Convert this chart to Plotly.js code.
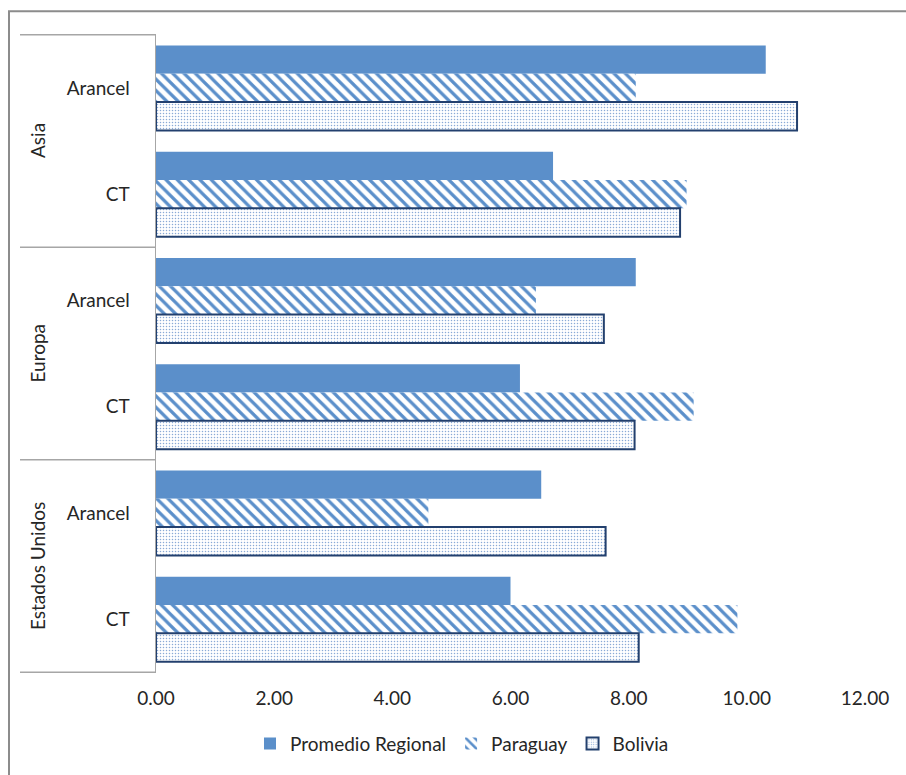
<!DOCTYPE html>
<html>
<head>
<meta charset="utf-8">
<script src="https://cdn.plot.ly/plotly-3.0.1.min.js"></script>
<style>html,body{margin:0;padding:0;background:#fff;}#chart{width:906px;height:775px;}</style>
</head>
<body>
<div id="chart"></div>
<script>
// Data
var groups = ['Asia', 'Europa', 'Estados Unidos'];
var subLabels = ['Arancel', 'CT'];
var seriesNames = ['Promedio Regional', 'Paraguay', 'Bolivia'];
var promedio = [10.32, 6.72, 8.12, 6.16, 6.52, 6.00];
var paraguay = [8.12, 8.98, 6.43, 9.10, 4.61, 9.84];
var bolivia  = [10.85, 8.87, 7.58, 8.10, 7.61, 8.17];
var xTicks = [0, 2, 4, 6, 8, 10, 12];

// Build category ids
var cats = [], catText = [];
groups.forEach(function (g) {
  subLabels.forEach(function (s) { cats.push(g + ' | ' + s); catText.push(s); });
});

var blue = '#5b8fca';
var font = 'Lato, "Open Sans", sans-serif';
var txtColor = '#262626';
var fs = 19;

var traces = [
  {type: 'bar', orientation: 'h', name: seriesNames[0], y: cats, x: promedio,
   marker: {color: blue, line: {width: 0}}},
  {type: 'bar', orientation: 'h', name: seriesNames[1], y: cats, x: paraguay,
   marker: {color: '#ffffff', line: {width: 0},
            pattern: {shape: '\\', fgcolor: blue, bgcolor: '#ffffff', size: 8, solidity: 0.4}}},
  {type: 'bar', orientation: 'h', name: seriesNames[2], y: cats, x: bolivia,
   marker: {color: '#ffffff', line: {width: 2, color: '#23406e'},
            pattern: {shape: '.', fgcolor: '#8aaad6', bgcolor: '#ffffff', size: 3, solidity: 0.2}}}
];

// layout geometry helpers (pixel -> paper)
var L = 156, R = 41, T = 34, B = 98, W = 906, H = 775;
var pw = W - L - R, ph = H - T - B;
function px(x) { return (x - L) / pw; }
function py(y) { return (H - B - y) / ph; }

var shapes = [];
// outer chart border
shapes.push({type: 'rect', xref: 'paper', yref: 'paper', x0: px(9), x1: px(912), y0: py(790), y1: py(11),
  line: {color: '#8c8c8c', width: 2}, fillcolor: 'rgba(0,0,0,0)', layer: 'below'});
// group divider lines in the label area
for (var k = 0; k <= groups.length; k++) {
  var yv = k * subLabels.length - 0.5;
  shapes.push({type: 'line', xref: 'paper', yref: 'y', x0: px(20), x1: 0, y0: yv, y1: yv,
    line: {color: '#a6a6a6', width: 1.5}});
}

var annotations = groups.map(function (g, i) {
  return {xref: 'paper', yref: 'y', x: px(37), y: i * subLabels.length + (subLabels.length - 1) / 2,
    text: g, textangle: -90, showarrow: false, xanchor: 'center', yanchor: 'middle',
    font: {family: font, size: fs, color: txtColor}};
});

var layout = {
  width: W, height: H,
  margin: {l: L, r: R, t: T, b: B, pad: 0},
  paper_bgcolor: '#ffffff', plot_bgcolor: '#ffffff',
  barmode: 'group', bargap: 0.2, bargroupgap: 0,
  showlegend: true,
  legend: {orientation: 'h', x: px(462), xanchor: 'center', y: py(748), yanchor: 'middle',
    traceorder: 'normal', font: {family: font, size: fs, color: txtColor}, itemwidth: 30},
  xaxis: {range: [0, 12], tickvals: xTicks, ticktext: xTicks.map(function (v) { return v.toFixed(2); }),
    showgrid: false, zeroline: false, showline: false, ticks: '', ticklabelstandoff: 12,
    tickfont: {family: font, size: fs, color: txtColor}},
  yaxis: {type: 'category', categoryorder: 'array', categoryarray: cats, autorange: 'reversed',
    tickvals: cats, ticktext: catText, showgrid: false, zeroline: false,
    showline: true, linecolor: '#a6a6a6', linewidth: 1.5, ticks: '', ticklabelstandoff: 21,
    tickfont: {family: font, size: fs, color: txtColor}},
  shapes: shapes,
  annotations: annotations
};

Plotly.newPlot('chart', traces, layout, {displayModeBar: false, staticPlot: true});
</script>
</body>
</html>
